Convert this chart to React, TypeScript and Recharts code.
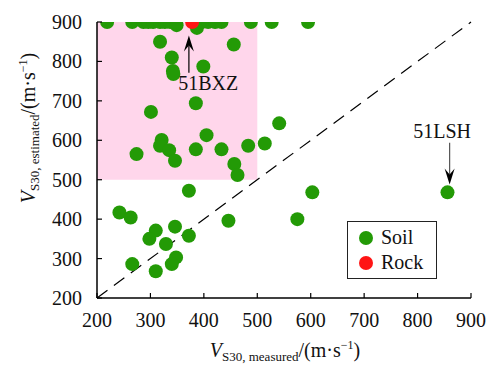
import React from 'react';
import {
    ScatterChart,
    Scatter,
    XAxis,
    YAxis,
    ReferenceArea,
    ReferenceLine
} from 'recharts';

// Soil stations: measured vs estimated VS30 (m/s)
const soilMeasured = [
    219, 266, 287, 296, 305, 318, 327, 337, 349, 387, 396, 408, 421, 433, 488, 527, 595,
    318, 456, 340, 399, 342, 343, 301, 385, 541, 405, 321, 318, 335, 385, 433, 483, 514, 274,
    346, 457, 463, 372, 242, 263, 310, 298, 346, 372, 329, 348, 340, 266, 310, 446, 603, 575, 856
];
const soilEstimated = [
    900, 900, 900, 900, 900, 900, 900, 900, 892, 885, 900, 900, 900, 900, 900, 900, 900,
    850, 843, 810, 787, 776, 768, 672, 694, 643, 613, 601, 586, 575, 577, 577, 586, 592, 565,
    548, 540, 512, 472, 417, 404, 371, 350, 381, 358, 337, 303, 286, 286, 268, 396, 468, 400, 468
];
const rockMeasured = [378];
const rockEstimated = [900];

const ticks = [200, 300, 400, 500, 600, 700, 800, 900];

// annotated stations: arrow x, arrow tail/tip y, label centre
const bxzNote = { label: '51BXZ', x: 372, from: 771, to: 866, lx: 408, ly: 745 };
const lshNote = { label: '51LSH', x: 860, from: 594, to: 488, lx: 846, ly: 625 };

const soilData = soilMeasured.map((x, i) => ({ x, y: soilEstimated[i] }));
const rockData = rockMeasured.map((x, i) => ({ x, y: rockEstimated[i] }));

const FONT = 'Liberation Serif, DejaVu Serif, serif';
const GREEN = '#239a06';
const RED = '#ff1515';

const XTick = (props: any) => {
    const { x, y, payload } = props;
    return (
        <g>
            <line x1={x} y1={y} x2={x} y2={y - 5} stroke="#000" strokeWidth={1.2} />
            <text x={x} y={y + 29} textAnchor="middle" fontFamily={FONT} fontSize={20} fill="#111">
                {payload.value}
            </text>
        </g>
    );
};

const YTick = (props: any) => {
    const { x, y, payload } = props;
    return (
        <g>
            <line x1={x} y1={y} x2={x + 5} y2={y} stroke="#000" strokeWidth={1.2} />
            <text x={x - 15} y={y + 7} textAnchor="end" fontFamily={FONT} fontSize={20} fill="#111">
                {payload.value}
            </text>
        </g>
    );
};

const arrowShape = (headDown: boolean) => (props: any) => {
    const { x1, y1, x2, y2 } = props;
    const dir = headDown ? -1 : 1;
    const head = `M${x2},${y2} L${x2 - 5},${y2 + dir * 16} L${x2},${y2 + dir * 10} L${x2 + 5},${y2 + dir * 16} Z`;
    return (
        <g>
            <line x1={x1} y1={y1} x2={x2} y2={y2 + dir * 10} stroke={headDown ? '#555' : '#000'} strokeWidth={1.2} />
            <path d={head} fill="#000" />
        </g>
    );
};

const LegendBox = () => (
    <div style={{
        position: 'absolute',
        left: 347,
        top: 221,
        border: '1.5px solid #222',
        background: '#fff',
        width: 88,
        padding: '3px 0',
        fontFamily: FONT,
        fontSize: 20,
        lineHeight: '25px',
        color: '#111'
    }}>
        {[['Soil', GREEN], ['Rock', RED]].map(([name, color]) => (
            <div key={name} style={{ display: 'flex', alignItems: 'center' }}>
                <span style={{
                    display: 'inline-block', width: 14, height: 14, borderRadius: 7,
                    background: color, marginLeft: 11, marginRight: 8
                }} />
                <span>{name}</span>
            </div>
        ))}
    </div>
);

const yLabel = () => (
    <text transform="translate(35,128) rotate(-90)" textAnchor="middle" fontFamily={FONT} fontSize={20} fill="#111">
        <tspan fontStyle="italic">V</tspan>
        <tspan fontSize={13} dy={4}>S30, estimated</tspan>
        <tspan dy={-4}>/(m·s</tspan>
        <tspan fontSize={12} dy={-8}>−1</tspan>
        <tspan dy={8}>)</tspan>
    </text>
);

const xLabel = () => (
    <text x={285} y={357} textAnchor="middle" fontFamily={FONT} fontSize={20} fill="#111">
        <tspan fontStyle="italic">V</tspan>
        <tspan fontSize={13} dy={4}>S30, measured</tspan>
        <tspan dy={-4}>/(m·s</tspan>
        <tspan fontSize={12} dy={-8}>−1</tspan>
        <tspan dy={8}>)</tspan>
    </text>
);

const dot = (color: string) => (p: any) => <circle cx={p.cx} cy={p.cy} r={7} fill={color} />;

const noteLabel = { position: 'center' as const, fontFamily: FONT, fontSize: 20, fill: '#111' };

const App: React.FC = () => {
    return (
        <div style={{ position: 'absolute', left: 0, top: 0, width: 500, height: 366, background: '#fff', fontFamily: FONT }}>
            <ScatterChart width={500} height={366} margin={{ top: 22, right: 29, left: 0, bottom: 0 }}>
                <XAxis
                    type="number"
                    dataKey="x"
                    domain={[200, 900]}
                    ticks={ticks}
                    height={68}
                    tickSize={0}
                    tickMargin={0}
                    tickLine={false}
                    tick={<XTick />}
                    axisLine={{ stroke: '#000', strokeWidth: 1.5 }}
                    allowDataOverflow
                    label={{ content: xLabel }}
                />
                <YAxis
                    type="number"
                    dataKey="y"
                    domain={[200, 900]}
                    ticks={ticks}
                    width={97}
                    tickSize={0}
                    tickMargin={0}
                    tickLine={false}
                    tick={<YTick />}
                    axisLine={{ stroke: '#000', strokeWidth: 1.5 }}
                    allowDataOverflow
                    label={{ content: yLabel }}
                />
                <ReferenceArea x1={200} x2={500} y1={500} y2={900} fill="#ffd6eb" fillOpacity={1} stroke="none" />
                <ReferenceLine
                    segment={[{ x: 200, y: 200 }, { x: 900, y: 900 }]}
                    stroke="#000"
                    strokeWidth={1.2}
                    strokeDasharray="13 8"
                />
                <Scatter name="Soil" data={soilData} fill={GREEN} shape={dot(GREEN)} isAnimationActive={false} />
                <Scatter name="Rock" data={rockData} fill={RED} shape={dot(RED)} isAnimationActive={false} />
                <ReferenceLine
                    segment={[{ x: bxzNote.x, y: bxzNote.from }, { x: bxzNote.x, y: bxzNote.to }]}
                    shape={arrowShape(false)}
                />
                <ReferenceLine
                    segment={[{ x: lshNote.x, y: lshNote.from }, { x: lshNote.x, y: lshNote.to }]}
                    shape={arrowShape(true)}
                />
                <ReferenceArea
                    x1={bxzNote.lx} x2={bxzNote.lx} y1={bxzNote.ly} y2={bxzNote.ly}
                    fillOpacity={0}
                    label={{ ...noteLabel, value: bxzNote.label }}
                />
                <ReferenceArea
                    x1={lshNote.lx} x2={lshNote.lx} y1={lshNote.ly} y2={lshNote.ly}
                    fillOpacity={0}
                    label={{ ...noteLabel, value: lshNote.label }}
                />
            </ScatterChart>
            <LegendBox />
        </div>
    );
};

export default App;
